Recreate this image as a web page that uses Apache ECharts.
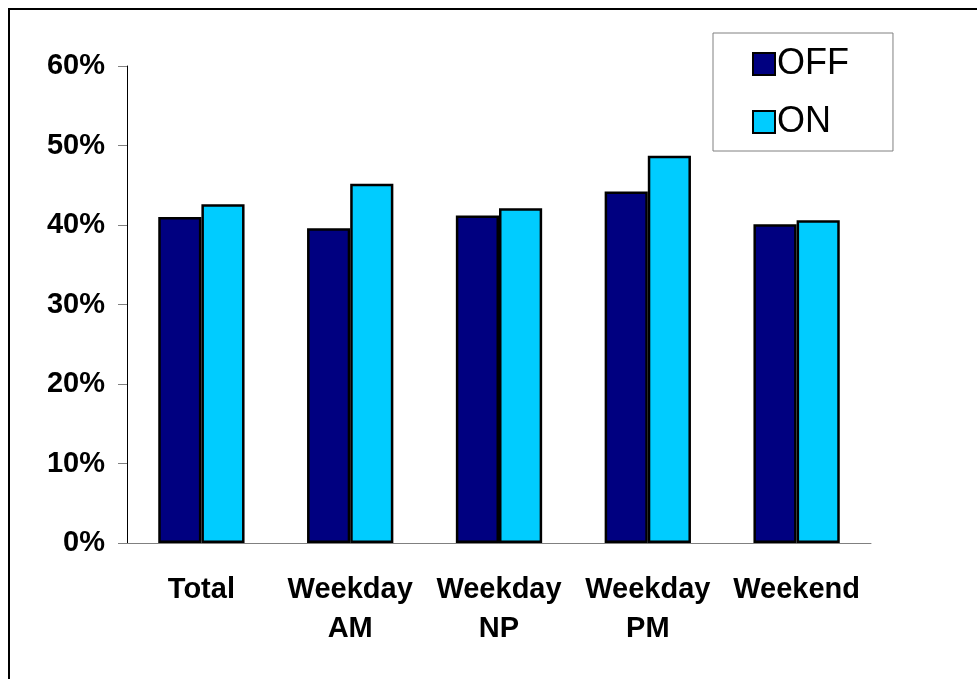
<!DOCTYPE html>
<html>
<head>
<meta charset="utf-8">
<script src="https://cdn.jsdelivr.net/npm/echarts@6/dist/echarts.min.js"></script>
<style>
  html, body { margin: 0; padding: 0; background: #fff; }
  #chart { width: 977px; height: 679px; }
</style>
</head>
<body>
<div id="chart"></div>
<script>
// categories and values (percent)
const categories = ["Total", "Weekday\nAM", "Weekday\nNP", "Weekday\nPM", "Weekend"]
const offValues = [41.0, 39.6, 41.2, 44.2, 40.1]
const onValues = [42.6, 45.2, 42.1, 48.7, 40.6]
const seriesNames = ["OFF", "ON"]

const font = "'Liberation Sans', Arial, sans-serif"

const chart = echarts.init(document.getElementById("chart"))

chart.setOption({
  animation: false,
  backgroundColor: "#fff",
  graphic: [
    {
      // outer frame (only left and top edges are visible)
      type: "rect",
      shape: { x: 9, y: 9, width: 1100, height: 800 },
      style: { fill: "none", stroke: "#000", lineWidth: 2 },
      z: 100
    }
  ],
  grid: {
    left: 127,
    right: 106,
    top: 66,
    bottom: 136
  },
  legend: {
    orient: "vertical",
    left: 713,
    top: 33,
    padding: [12, 44, 10, 39],
    icon: "rect",
    itemWidth: 22,
    itemHeight: 22,
    itemGap: 20,
    backgroundColor: "#fff",
    borderColor: "#808080",
    borderWidth: 1,
    textStyle: {
      fontFamily: font,
      fontSize: 36,
      lineHeight: 36,
      color: "#000",
      padding: [2, 0, 0, -3]
    },
    data: seriesNames
  },
  xAxis: {
    type: "category",
    data: categories,
    axisLine: { lineStyle: { color: "#808080", width: 1 } },
    axisTick: { length: 9, lineStyle: { color: "#808080" } },
    axisLabel: {
      margin: 27,
      fontFamily: font,
      fontSize: 29,
      fontWeight: "bold",
      lineHeight: 39,
      color: "#000",
      interval: 0
    }
  },
  yAxis: {
    type: "value",
    min: 0,
    max: 60,
    interval: 10,
    axisLine: { show: true, lineStyle: { color: "#000", width: 1 } },
    axisTick: { show: true, length: 9, lineStyle: { color: "#808080" } },
    splitLine: { show: false },
    axisLabel: {
      margin: 22,
      fontFamily: font,
      fontSize: 29,
      fontWeight: "bold",
      color: "#000",
      padding: [4, 0, 0, 0],
      formatter: "{value}%"
    }
  },
  series: [
    {
      name: seriesNames[0],
      type: "bar",
      data: offValues,
      barGap: "0%",
      barCategoryGap: "42%",
      itemStyle: { color: "#000080", borderColor: "#000", borderWidth: 2.5 }
    },
    {
      name: seriesNames[1],
      type: "bar",
      data: onValues,
      itemStyle: { color: "#00CCFF", borderColor: "#000", borderWidth: 2.5 }
    }
  ]
})
</script>
</body>
</html>
